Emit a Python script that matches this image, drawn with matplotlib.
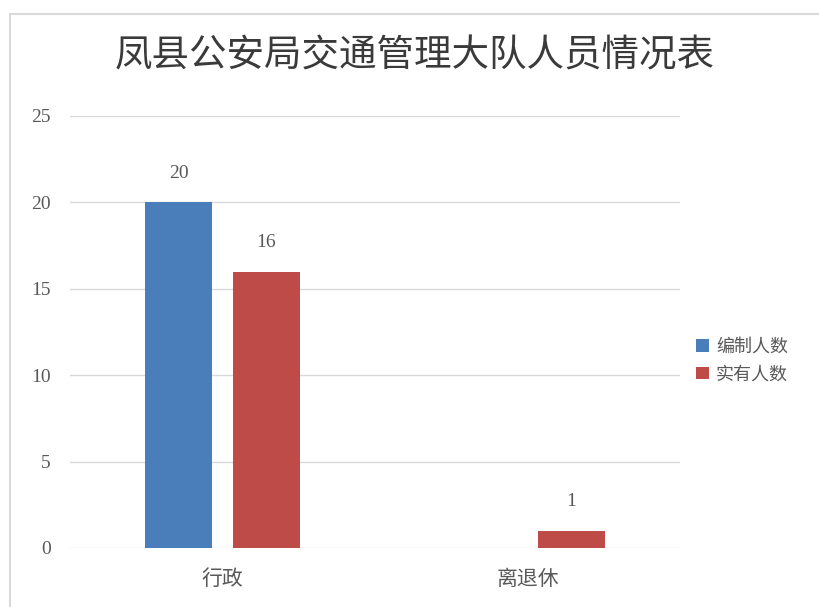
import matplotlib.pyplot as plt
import numpy as np
from matplotlib.patches import Rectangle

plt.rcParams['font.family'] = ['Liberation Serif', 'Noto Sans CJK SC', 'DejaVu Sans']

title = "凤县公安局交通管理大队人员情况表"
categories = ["行政", "离退休"]
series_names = ["编制人数", "实有人数"]
bianzhi = [20, None]
shiyou = [16, 1]
yticks = [0, 5, 10, 15, 20, 25]

colors = ["#4A7EBB", "#BE4B48"]
text_gray = "#595959"

fig = plt.figure(figsize=(8.19, 6.07), dpi=100)
# light frame of the chart area
fig.patches.append(Rectangle((10 / 819, -0.1), 1.2, 1 - 14 / 607 + 0.1,
                             transform=fig.transFigure, fill=False,
                             edgecolor="#D9D9D9", linewidth=1.5))

ax = fig.add_axes([70 / 819, 1 - 548 / 607, 610 / 819, (548 - 116) / 607])

x = np.arange(len(categories))
w = 0.22
off = 0.144
handles = []
for i, (vals, name) in enumerate(zip([bianzhi, shiyou], series_names)):
    xs = [xi + (off if i else -off) for xi, v in zip(x, vals) if v is not None]
    vs = [v for v in vals if v is not None]
    bars = ax.bar(xs, vs, width=w, color=colors[i], label=name, zorder=3)
    handles.append(bars)
    for b, v in zip(bars, vs):
        ax.text(b.get_x() + b.get_width() / 2, v + 1.2, f"{v}", ha="center",
                va="bottom", fontsize=14, color=text_gray)

ax.set_xlim(-0.5, 1.5)
ax.set_ylim(0, 25)
ax.set_yticks(yticks)
ax.yaxis.grid(True, color="#D9D9D9", linewidth=1, zorder=0)
ax.set_axisbelow(True)
for s in ax.spines.values():
    s.set_visible(False)
ax.tick_params(axis="both", length=0, colors=text_gray)
ax.tick_params(axis="y", labelsize=14, pad=14)
ax.tick_params(axis="x", labelsize=15, pad=16)
ax.set_xticks(x)
ax.set_xticklabels(categories)

fig.text(415 / 819, 1 - 57 / 607, title, ha="center", va="center",
         fontsize=27, color="#3A3A3A")

fig.legend(handles=handles, labels=series_names, loc="center left",
           bbox_to_anchor=(680 / 819, 1 - 361 / 607), frameon=False,
           fontsize=13, handlelength=0.7, handleheight=0.7, handletextpad=0.4,
           labelspacing=0.6, labelcolor=text_gray)

fig.savefig("out.png", dpi=100)
